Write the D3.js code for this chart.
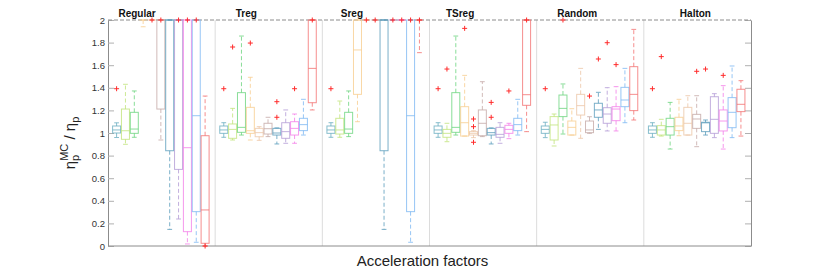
<!DOCTYPE html>
<html>
<head>
<meta charset="utf-8">
<script src="https://cdn.jsdelivr.net/npm/d3@7"></script>
<style>
    body { margin: 0; background: #fff; }
    #chart { width: 830px; height: 277px; }
    text { font-family: "Liberation Sans", Arial, Helvetica, sans-serif; }
</style>
</head>
<body>
<div id="chart"></div>
<script>
/*global d3*/

// group names (one per sampling scheme)
const groups = ['Regular', 'Treg', 'Sreg', 'TSreg', 'Random', 'Halton'];
// 11 acceleration factors in each group
const factors = d3.range(1, 12);
const yTicks = [0, 0.2, 0.4, 0.6, 0.8, 1, 1.2, 1.4, 1.6, 1.8, 2];
const yTickLabels = ['0', '0.2', '0.4', '0.6', '0.8', '1', '1.2', '1.4', '1.6', '1.8', '2'];

// box stats per factor: [low whisker, q1, median, q3, high whisker]  (values clipped at 2)
const regularStats = [
    [0.96, 1.00, 1.027, 1.062, 1.09],
    [0.90, 0.944, 1.02, 1.212, 1.431],
    [0.962, 0.997, 1.035, 1.183, 1.372],
    [1.94, 2, 2, 2, 2],
    [2, 2, 2, 2, 2],
    [0.938, 1.212, 2, 2, 2],
    [0.147, 0.843, 2, 2, 2],
    [0.239, 0.678, 2, 2, 2],
    [0.018, 0.127, 0.87, 2, 2],
    [0.033, 0.304, 1.153, 2, 2],
    [0.0, 0.024, 0.319, 0.976, 1.327]
];
const tregStats = [
    [0.962, 0.997, 1.027, 1.062, 1.091],
    [0.938, 0.953, 1.032, 1.08, 1.218],
    [0.982, 1.006, 1.05, 1.357, 1.858],
    [0.938, 0.997, 1.02, 1.227, 1.493],
    [0.935, 0.967, 1.003, 1.041, 1.056],
    [0.968, 0.991, 1.038, 1.086, 1.139],
    [0.903, 0.982, 1.0, 1.041, 1.045],
    [0.909, 0.953, 1.012, 1.091, 1.204],
    [0.909, 0.982, 1.041, 1.10, 1.168],
    [0.982, 1.021, 1.074, 1.13, 1.298],
    [1.204, 1.268, 1.572, 2, 2]
];
const sregStats = [
    [0.962, 0.997, 1.027, 1.062, 1.091],
    [0.962, 0.991, 1.027, 1.13, 1.283],
    [0.968, 0.997, 1.035, 1.183, 1.372],
    [1.10, 1.342, 1.735, 2, 2],
    [2, 2, 2, 2, 2],
    [2, 2, 2, 2, 2],
    [0.147, 0.843, 2, 2, 2],
    [2, 2, 2, 2, 2],
    [2, 2, 2, 2, 2],
    [0.033, 0.304, 1.153, 2, 2],
    [1.711, 2, 2, 2, 2]
];
const tsregStats = [
    [0.962, 0.997, 1.027, 1.062, 1.091],
    [0.923, 0.962, 0.997, 1.032, 1.086],
    [0.982, 1.006, 1.05, 1.357, 1.858],
    [0.973, 0.973, 1.091, 1.233, 1.51],
    [0.959, 0.982, 0.997, 1.012, 1.02],
    [0.968, 0.976, 1.086, 1.204, 1.454],
    [0.903, 0.982, 1.003, 1.041, 1.045],
    [0.909, 0.962, 0.988, 1.05, 1.091],
    [0.95, 0.997, 1.032, 1.068, 1.086],
    [0.982, 1.021, 1.074, 1.13, 1.298],
    [1.012, 1.245, 1.339, 2, 2]
];
const randomStats = [
    [0.959, 0.997, 1.032, 1.062, 1.095],
    [0.885, 0.938, 1.071, 1.145, 1.168],
    [0.991, 1.145, 1.218, 1.336, 1.434],
    [0.982, 0.982, 1.05, 1.106, 1.215],
    [0.953, 1.159, 1.242, 1.342, 1.572],
    [0.997, 1.003, 1.027, 1.106, 1.144],
    [1.032, 1.139, 1.204, 1.263, 1.36],
    [1.018, 1.086, 1.168, 1.224, 1.401],
    [1.018, 1.109, 1.212, 1.233, 1.41],
    [1.091, 1.233, 1.292, 1.404, 1.572],
    [1.115, 1.198, 1.342, 1.587, 1.917]
];
const haltonStats = [
    [0.962, 0.997, 1.027, 1.062, 1.091],
    [0.973, 0.982, 1.027, 1.065, 1.121],
    [0.858, 0.982, 1.056, 1.13, 1.271],
    [0.976, 1.021, 1.062, 1.139, 1.298],
    [0.982, 0.982, 1.086, 1.227, 1.33],
    [0.879, 1.041, 1.124, 1.165, 1.33],
    [0.982, 1.012, 1.09, 1.095, 1.115],
    [0.959, 0.997, 1.121, 1.321, 1.348],
    [0.858, 1.018, 1.106, 1.204, 1.419],
    [0.959, 1.047, 1.183, 1.313, 1.593],
    [0.973, 1.189, 1.254, 1.387, 1.463]
];

// outliers per factor
const regularOut = [[1.392], [], [], [], [2], [2], [], [2], [2], [2], [0.0]];
const tregOut = [[1.392], [1.761], [], [1.796], [], [], [1.277, 1.139], [], [1.392], [], [2]];
const sregOut = [[1.392], [], [], [], [2], [2], [], [2], [2], [2], [2]];
const tsregOut = [[1.392], [1.566], [], [1.926], [1.124, 1.056, 0.918], [], [1.271, 1.139], [], [1.372], [], [2]];
const randomOut = [[1.392], [], [2], [], [], [1.327], [1.655], [1.799], [1.605], [], []];
const haltonOut = [[1.392], [1.676], [], [], [], [1.546], [1.566], [], [1.51], [], []];

const allStats = [regularStats, tregStats, sregStats, tsregStats, randomStats, haltonStats];
const allOut = [regularOut, tregOut, sregOut, tsregOut, randomOut, haltonOut];

const colors = ['#6aaec0', '#c0e47a', '#6cd47e', '#f8cd8e', '#ecc6a6', '#c4a9a6',
                '#5a9cbc', '#b39bd6', '#f47ee9', '#7db8f2', '#f27070'];

// title nudges relative to the group centre (titles were placed by hand)
const titleShift = [-24.5, -22.5, -24, -23, -13, -2];


class BoxGroups {
    constructor(id) {
        this.id = id;
        this.init();
    }

    init() {
        this.handleData();
        this.initSvg();
        this.initScale();
        this.drawFrame();
        this.drawBoxes();
        this.drawLabels();
    }

    handleData() {
        this.boxes = [];
        this.outliers = [];
        groups.forEach((g, gi) => {
            allStats[gi].forEach((s, i) => {
                this.boxes.push({ g, i, lo: s[0], q1: s[1], med: s[2], q3: s[3], hi: s[4] });
                allOut[gi][i].forEach(v => this.outliers.push({ g, i, v }));
            });
        });
    }

    initSvg() {
        const div = d3.select(`#${this.id}`);
        div.selectAll('*').remove();
        this.w = 830;
        this.h = 277;
        this.svg = div.append('svg').attr('width', this.w).attr('height', this.h);
        this.m = { left: 108, right: 751, top: 20, bottom: 246 };
    }

    initScale() {
        const m = this.m;
        this.gx = d3.scaleBand().domain(groups).range([m.left, m.right]);
        this.ix = d3.scalePoint().domain(d3.range(factors.length)).range([8.6, 97.1]);
        this.y = d3.scaleLinear().domain([0, 2]).range([m.bottom, m.top]);
        this.cx = (d) => this.gx(d.g) + this.ix(d.i);
        this.boxW = 8;
    }

    drawFrame() {
        const m = this.m;
        // separators between groups
        this.svg.append('g')
            .selectAll('line')
            .data(groups.slice(1))
            .join('line')
            .attr('x1', d => this.gx(d)).attr('x2', d => this.gx(d))
            .attr('y1', m.top).attr('y2', m.bottom)
            .attr('stroke', '#dcdcdc');

        const left = this.svg.append('g')
            .attr('transform', `translate(${m.left},0)`)
            .call(d3.axisLeft(this.y).tickValues(yTicks)
                .tickFormat((d, i) => yTickLabels[i])
                .tickSizeInner(-6).tickSizeOuter(0).tickPadding(3));
        left.selectAll('text').attr('font-size', '9.5px').attr('fill', '#333')
            .style('font-family', '"Liberation Sans", Arial, sans-serif');

        this.svg.append('g')
            .attr('transform', `translate(${m.right},0)`)
            .call(d3.axisRight(this.y).tickValues(yTicks).tickSizeInner(-6).tickSizeOuter(0).tickFormat(''));

        this.svg.selectAll('.domain').attr('stroke', '#8c8c8c');
        this.svg.selectAll('.tick line').attr('stroke', '#b0b0b0');

        this.svg.append('line')
            .attr('x1', m.left).attr('x2', m.right)
            .attr('y1', m.bottom).attr('y2', m.bottom)
            .attr('stroke', '#8c8c8c');
        this.svg.append('line')
            .attr('x1', m.left).attr('x2', m.right)
            .attr('y1', m.top).attr('y2', m.top)
            .attr('stroke', '#8c8c8c')
            .attr('stroke-dasharray', '4,2');
    }

    drawBoxes() {
        const y = this.y, half = this.boxW / 2, cap = 2.4;
        const g = this.svg.append('g').attr('fill', 'none');
        const box = g.selectAll('g.box')
            .data(this.boxes)
            .join('g')
            .attr('class', 'box')
            .attr('stroke', d => colors[d.i])
            .attr('stroke-opacity', 0.8)
            .attr('stroke-width', 1);

        // whiskers
        box.append('line')
            .attr('x1', d => this.cx(d)).attr('x2', d => this.cx(d))
            .attr('y1', d => y(d.q3)).attr('y2', d => y(d.hi))
            .attr('stroke-dasharray', '4,2.5');
        box.append('line')
            .attr('x1', d => this.cx(d)).attr('x2', d => this.cx(d))
            .attr('y1', d => y(d.q1)).attr('y2', d => y(d.lo))
            .attr('stroke-dasharray', '4,2.5');
        box.append('line')
            .attr('x1', d => this.cx(d) - cap).attr('x2', d => this.cx(d) + cap)
            .attr('y1', d => y(d.hi)).attr('y2', d => y(d.hi));
        box.append('line')
            .attr('x1', d => this.cx(d) - cap).attr('x2', d => this.cx(d) + cap)
            .attr('y1', d => y(d.lo)).attr('y2', d => y(d.lo));

        box.append('rect')
            .attr('x', d => this.cx(d) - half)
            .attr('width', this.boxW)
            .attr('y', d => y(d.q3))
            .attr('height', d => y(d.q1) - y(d.q3));
        box.append('line')
            .attr('x1', d => this.cx(d) - half).attr('x2', d => this.cx(d) + half)
            .attr('y1', d => y(d.med)).attr('y2', d => y(d.med));

        // outliers as red plus signs
        const s = 2.5;
        g.selectAll('path.out')
            .data(this.outliers)
            .join('path')
            .attr('class', 'out')
            .attr('d', d => {
                const x = this.cx(d), yy = y(d.v);
                return `M${x - s},${yy}H${x + s}M${x},${yy - s}V${yy + s}`;
            })
            .attr('stroke', '#ff2b2b')
            .attr('stroke-width', 1);
    }

    drawLabels() {
        this.svg.append('g')
            .selectAll('text')
            .data(groups)
            .join('text')
            .attr('x', (d, i) => this.gx(d) + this.gx.bandwidth() / 2 + titleShift[i])
            .attr('y', 17)
            .attr('text-anchor', 'middle')
            .attr('font-size', '10px')
            .attr('font-weight', 'bold')
            .attr('fill', '#111')
            .text(d => d);

        this.svg.append('text')
            .attr('x', (this.m.left + this.m.right) / 2 - 7)
            .attr('y', 266)
            .attr('text-anchor', 'middle')
            .attr('font-size', '15px')
            .attr('fill', '#222')
            .text('Acceleration factors');

        // eta_p^MC / eta_p
        const lab = this.svg.append('text')
            .attr('transform', 'translate(75,143) rotate(-90)')
            .attr('text-anchor', 'middle')
            .attr('font-size', '15px')
            .attr('fill', '#222');
        lab.append('tspan').text('η');
        lab.append('tspan').attr('font-size', '11px').attr('dy', 4).text('p');
        lab.append('tspan').attr('font-size', '11px').attr('dx', -6).attr('dy', -11).text('MC');
        lab.append('tspan').attr('dy', 7).text(' / η');
        lab.append('tspan').attr('font-size', '11px').attr('dy', 4).text('p');
    }
}

new BoxGroups('chart');
</script>
</body>
</html>
